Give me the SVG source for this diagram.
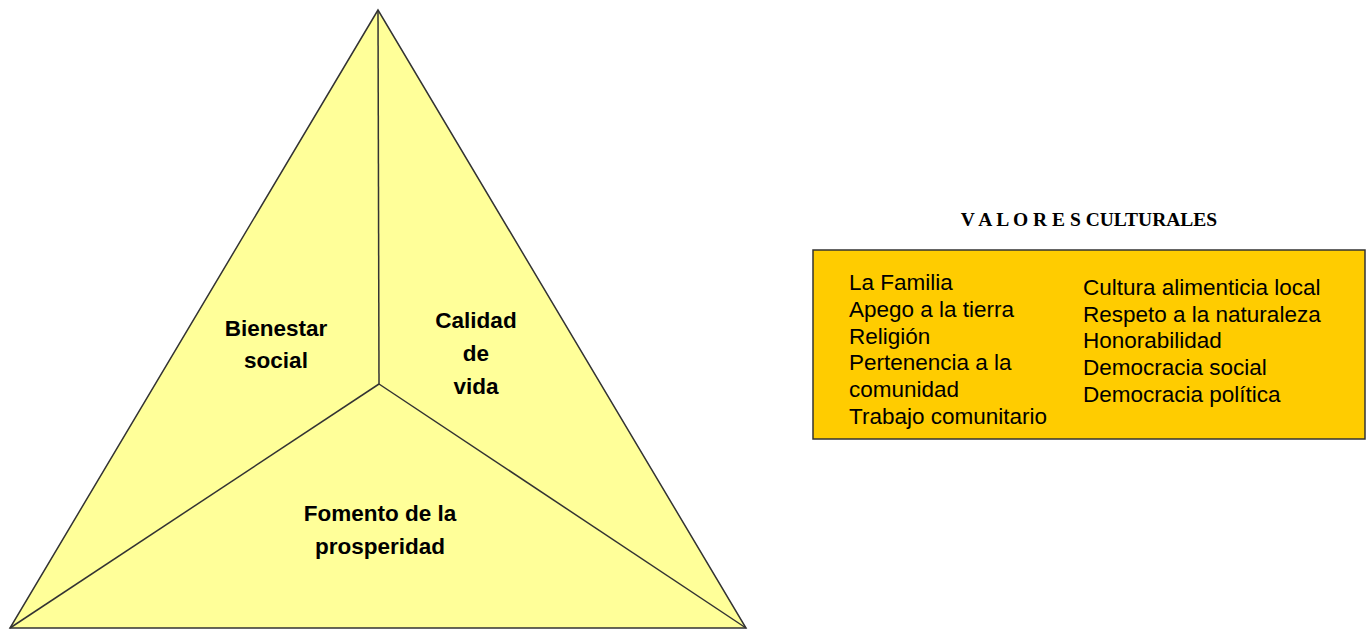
<svg xmlns="http://www.w3.org/2000/svg" width="1369" height="629" viewBox="0 0 1369 629">
<style>
.tri{fill:#FFFF99;stroke:#333;stroke-width:1.5;stroke-linejoin:miter}
.div{stroke:#333;stroke-width:1.5;fill:none}
.lbl{font-family:"Liberation Sans",Arial,sans-serif;font-weight:bold;font-size:22.5px;fill:#000;text-anchor:middle}
.item{font-family:"Liberation Sans",Arial,sans-serif;font-size:22.5px;fill:#000}
.title{font-family:"Liberation Serif","Times New Roman",serif;font-weight:bold;font-size:19.5px;fill:#000;text-anchor:middle}
</style>
<rect width="1369" height="629" fill="#fff"/>
<g id="triangle">
<polygon class="tri" points="378,10 10,628 746,628"/>
</g>
<g id="connectors">
<line class="div" x1="378" y1="10" x2="379" y2="384"/>
<line class="div" x1="379" y1="384" x2="10" y2="628"/>
<line class="div" x1="379" y1="384" x2="746" y2="628"/>
</g>
<g id="bienestar">
<text class="lbl" x="276" y="336">Bienestar</text>
<text class="lbl" x="276" y="368">social</text>
</g>
<g id="calidad">
<text class="lbl" x="476" y="328">Calidad</text>
<text class="lbl" x="476" y="361">de</text>
<text class="lbl" x="476" y="394">vida</text>
</g>
<g id="fomento">
<text class="lbl" x="380" y="521">Fomento de la</text>
<text class="lbl" x="380" y="554">prosperidad</text>
</g>
<g id="valores">
<text class="title" x="1089" y="226">V A L O R E S CULTURALES</text>
<rect x="813" y="250" width="552" height="189" fill="#FFCC00" stroke="#333" stroke-width="1.5"/>
<text class="item" x="849" y="290">La Familia</text>
<text class="item" x="849" y="317">Apego a la tierra</text>
<text class="item" x="849" y="344">Religión</text>
<text class="item" x="849" y="370">Pertenencia a la</text>
<text class="item" x="849" y="397">comunidad</text>
<text class="item" x="849" y="424">Trabajo comunitario</text>
<text class="item" x="1083" y="295">Cultura alimenticia local</text>
<text class="item" x="1083" y="322">Respeto a la naturaleza</text>
<text class="item" x="1083" y="348">Honorabilidad</text>
<text class="item" x="1083" y="375">Democracia social</text>
<text class="item" x="1083" y="402">Democracia política</text>
</g>
</svg>
